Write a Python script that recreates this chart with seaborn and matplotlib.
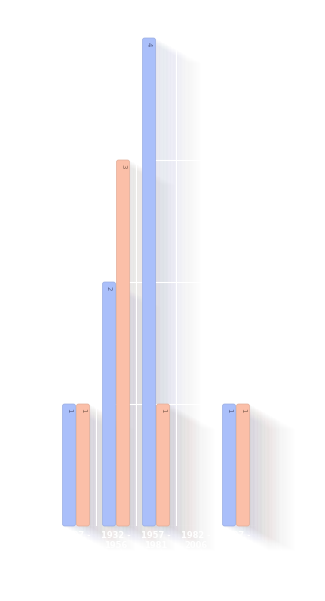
import numpy as np
import pandas as pd
import matplotlib
matplotlib.use("Agg")
import matplotlib.pyplot as plt
import matplotlib.patheffects as pe
from matplotlib.patches import FancyBboxPatch, Rectangle
from matplotlib.ticker import FixedLocator
import seaborn as sns

# ---- data ----
periods = ["1907 -\n1931", "1932 -\n1956", "1957 -\n1981", "1982 -\n2006", "2007 -\n2031"]
series_names = ["Series A", "Series B"]
series_a = [1, 2, 4, np.nan, 1]
series_b = [1, 3, 1, np.nan, 1]
palette = ["#aabffa", "#fbbfa8"]
shadow_cols = [(0.55, 0.59, 0.76), (0.64, 0.57, 0.54)]
label_cols = ["#56608a", "#8a6656"]

df = pd.DataFrame({
    "period": periods * 2,
    "series": [series_names[0]] * len(periods) + [series_names[1]] * len(periods),
    "value": series_a + series_b,
}).dropna()

sns.set_theme(style="white")
fig = plt.figure(figsize=(3.25, 6.01), dpi=100)
ax = fig.add_axes([56 / 325, 75 / 601, 200 / 325, 488 / 601])

sns.barplot(data=df, x="period", y="value", hue="series", order=periods,
            hue_order=series_names, palette=palette, width=0.7, gap=0.07,
            saturation=1, legend=False, errorbar=None, ax=ax)

ax.set_xlim(-0.5, len(periods) - 0.5)
ax.set_ylim(0, 4)
ax.set_xlabel("")
ax.set_ylabel("")
ax.set_yticks([0, 1, 2, 3, 4])
ax.set_yticklabels([])
ax.xaxis.set_minor_locator(FixedLocator(np.arange(-0.5, len(periods), 1.0)))
ax.set_axisbelow(True)
ax.grid(False)
ax.yaxis.grid(True, color="white", lw=0.8)
ax.xaxis.grid(True, which="minor", color="white", lw=0.8)
ax.tick_params(axis="both", which="both", length=0)
ax.tick_params(axis="x", pad=3.5, labelsize=6, labelcolor="white")
for lab in ax.get_xticklabels():
    lab.set_fontweight("bold")
for s in ax.spines.values():
    s.set_visible(False)

# pixel scale for rounded corners
p0 = ax.transData.transform((0, 0))
p1 = ax.transData.transform((1, 1))
px_x = p1[0] - p0[0]
px_y = p1[1] - p0[1]
m_aspect = px_x / px_y

N = 36
step = (1.0, -0.54)
for ci, cont in enumerate(ax.containers):
    for rect in cont.patches:
        h = rect.get_height()
        if not np.isfinite(h) or h <= 0:
            rect.set_visible(False)
            continue
        x, y, w = rect.get_x(), rect.get_y(), rect.get_width()
        fc = rect.get_facecolor()
        rect.set_visible(False)
        # shadow extrusion
        effects = [pe.SimplePatchShadow(offset=(step[0] * k, step[1] * k),
                                        shadow_rgbFace=shadow_cols[ci],
                                        alpha=0.026 * (1 - k / N))
                   for k in range(1, N)]
        sh = Rectangle((x, y), w, h, facecolor="none", edgecolor="none",
                       clip_on=False, zorder=0.2)
        sh.set_path_effects(effects)
        ax.add_patch(sh)
        edge = tuple(np.array(fc[:3]) * 0.9)
        bar = FancyBboxPatch((x, y), w, h,
                             boxstyle="round,pad=0,rounding_size=%f" % (2.2 / px_x),
                             mutation_aspect=m_aspect,
                             facecolor=fc, edgecolor=edge, lw=0.5, zorder=3,
                             clip_on=False)
        ax.add_patch(bar)
        ax.annotate(f"{h:g}", xy=(x + w / 2, y + h), xytext=(0, -3),
                    textcoords="offset points", rotation=-90,
                    ha="center", va="top", fontsize=5,
                    color=label_cols[ci], zorder=4)

fig.savefig("out.png", dpi=100)
